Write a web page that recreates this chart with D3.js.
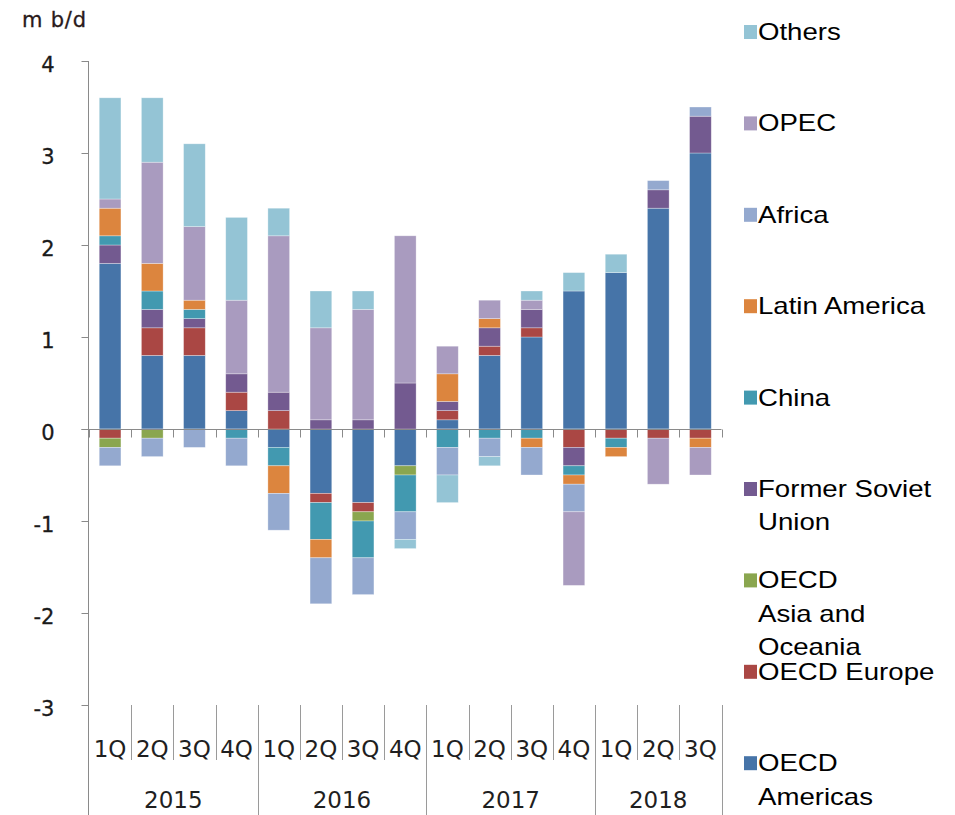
<!DOCTYPE html>
<html>
<head>
<meta charset="utf-8">
<script src="https://cdn.jsdelivr.net/npm/d3@7"></script>
<style>
  html, body { margin: 0; padding: 0; background: #fff; }
  svg { display: block; }
</style>
</head>
<body>
<svg id="chart" width="955" height="815"></svg>
<script>
// Year-on-year change in oil supply by region, million barrels per day
const years = ["2015", "2016", "2017", "2018"];
const quartersPerYear = [
  ["1Q", "2Q", "3Q", "4Q"],
  ["1Q", "2Q", "3Q", "4Q"],
  ["1Q", "2Q", "3Q", "4Q"],
  ["1Q", "2Q", "3Q"]
];
const yTicks = [-3, -2, -1, 0, 1, 2, 3, 4];
const unitLabel = "m b/d";

const oecdAmericas = [1.8, 0.8, 0.8, 0.2, -0.2, -0.7, -0.8, -0.4, 0.1, 0.8, 1.0, 1.5, 1.7, 2.4, 3.0];
const oecdEurope   = [-0.1, 0.3, 0.3, 0.2, 0.2, -0.1, -0.1, 0.0, 0.1, 0.1, 0.1, -0.2, -0.1, -0.1, -0.1];
const oecdAsia     = [-0.1, -0.1, 0.0, 0.0, 0.0, 0.0, -0.1, -0.1, 0.0, 0.0, 0.0, 0.0, 0.0, 0.0, 0.0];
const formerSoviet = [0.2, 0.2, 0.1, 0.2, 0.2, 0.1, 0.1, 0.5, 0.1, 0.2, 0.2, -0.2, 0.0, 0.2, 0.4];
const china        = [0.1, 0.2, 0.1, -0.1, -0.2, -0.4, -0.4, -0.4, -0.2, -0.1, -0.1, -0.1, -0.1, 0.0, 0.0];
const latinAmerica = [0.3, 0.3, 0.1, 0.0, -0.3, -0.2, 0.0, 0.0, 0.3, 0.1, -0.1, -0.1, -0.1, 0.0, -0.1];
const africa       = [-0.2, -0.2, -0.2, -0.3, -0.4, -0.5, -0.4, -0.3, -0.3, -0.2, -0.3, -0.3, 0.0, 0.1, 0.1];
const opec         = [0.1, 1.1, 0.8, 0.8, 1.7, 1.0, 1.2, 1.6, 0.3, 0.2, 0.1, -0.8, 0.0, -0.5, -0.3];
const others       = [1.1, 0.7, 0.9, 0.9, 0.3, 0.4, 0.2, -0.1, -0.3, -0.1, 0.1, 0.2, 0.2, 0.0, 0.0];

// Series in stacking order (bottom of the stack first)
const seriesNames = [
  "OECD Americas", "OECD Europe", "OECD Asia and Oceania", "Former Soviet Union",
  "China", "Latin America", "Africa", "OPEC", "Others"
];
const seriesValues = [
  oecdAmericas, oecdEurope, oecdAsia, formerSoviet,
  china, latinAmerica, africa, opec, others
];
const seriesColors = [
  "#4674a8", "#aa4744", "#8aa64f", "#735a90",
  "#4299b0", "#dc853e", "#94a9cf", "#a99bbf", "#94c4d5"
];
// Legend wording, wrapped the way it is printed
const legendLines = [
  ["OECD", "Americas"], ["OECD Europe"], ["OECD", "Asia and", "Oceania"], ["Former Soviet", "Union"],
  ["China"], ["Latin America"], ["Africa"], ["OPEC"], ["Others"]
];

// ---- layout ----
const plot = { left: 89, right: 721.5, top: 61, bottom: 705 };
const svg = d3.select("#chart");
const axisColor = "#8a8a8a";
const axisFont = "'DejaVu Sans', Verdana, sans-serif";

const periods = years.flatMap((yr, i) =>
  quartersPerYear[i].map(q => ({ key: yr + "-" + q, year: yr, quarter: q })));

const rows = periods.map((p, i) => {
  const row = { period: p.key };
  seriesNames.forEach((name, s) => { row[name] = seriesValues[s][i]; });
  return row;
});

const x = d3.scaleBand()
  .domain(periods.map(p => p.key))
  .range([plot.left, plot.right])
  .paddingInner(0.485)
  .paddingOuter(0.2425);

const y = d3.scaleLinear()
  .domain([d3.min(yTicks), d3.max(yTicks)])
  .range([plot.bottom, plot.top]);

const stacked = d3.stack()
  .keys(seriesNames)
  .offset(d3.stackOffsetDiverging)(rows);

// ---- bars ----
const layers = svg.append("g").attr("class", "bars")
  .selectAll("g")
  .data(stacked)
  .join("g")
  .attr("fill", (d, i) => seriesColors[i]);

layers.selectAll("rect")
  .data(d => d.filter(seg => seg[0] !== seg[1]))
  .join("rect")
  .attr("x", d => x(d.data.period))
  .attr("width", x.bandwidth())
  .attr("y", d => Math.min(y(d[0]), y(d[1])))
  .attr("height", d => Math.abs(y(d[0]) - y(d[1])))
  .attr("stroke", "rgba(255,255,255,0.45)")
  .attr("stroke-width", 0.7);

// ---- value axis ----
const yAxis = svg.append("g")
  .attr("transform", `translate(${plot.left - 0.5},0)`)
  .call(d3.axisLeft(y).tickValues(yTicks).tickSize(7).tickPadding(27).tickFormat(d => String(d)));
yAxis.select(".domain").remove();
yAxis.selectAll(".tick line").attr("stroke", axisColor);
yAxis.selectAll(".tick text")
  .attr("font-family", axisFont)
  .attr("font-size", 21)
  .attr("fill", "#1a1a1a")
  .attr("stroke", "#1a1a1a")
  .attr("stroke-width", 0.3)
  .attr("dy", "0.48em");

// vertical axis line, running down through the category label area
svg.append("line")
  .attr("x1", plot.left - 0.5).attr("x2", plot.left - 0.5)
  .attr("y1", plot.top).attr("y2", 815)
  .attr("stroke", axisColor);

svg.append("text")
  .attr("x", 22).attr("y", 27)
  .attr("font-family", axisFont)
  .attr("font-size", 21)
  .attr("fill", "#2a1a1a")
  .attr("stroke", "#2a1a1a")
  .attr("stroke-width", 0.3)
  .attr("letter-spacing", 0.8)
  .text(unitLabel);

// ---- category axis at zero ----
const zeroY = Math.round(y(0)) + 0.5;
svg.append("line")
  .attr("x1", plot.left - 7.5).attr("x2", plot.right)
  .attr("y1", zeroY).attr("y2", zeroY)
  .attr("stroke", axisColor);

const boundaries = d3.range(periods.length + 1).map(i => plot.left + i * x.step());
svg.append("g").selectAll("line")
  .data(boundaries)
  .join("line")
  .attr("x1", d => Math.round(d) + 0.5).attr("x2", d => Math.round(d) + 0.5)
  .attr("y1", zeroY).attr("y2", zeroY + 8)
  .attr("stroke", axisColor);

// ---- category labels: quarters then years ----
const labelTop = plot.bottom;
const yearStarts = [];
let count = 0;
quartersPerYear.forEach(qs => { yearStarts.push(count); count += qs.length; });

svg.append("g").selectAll("line")
  .data(boundaries.slice(1))
  .join("line")
  .attr("x1", d => Math.round(d) + 0.5).attr("x2", d => Math.round(d) + 0.5)
  .attr("y1", labelTop)
  .attr("y2", (d, i) => (yearStarts.includes(i + 1) || i + 1 === periods.length) ? 815 : 760)
  .attr("stroke", "#9a9a9a");

svg.append("g").selectAll("text")
  .data(periods)
  .join("text")
  .attr("x", d => x(d.key) + x.bandwidth() / 2)
  .attr("y", 757)
  .attr("text-anchor", "middle")
  .attr("font-family", axisFont)
  .attr("font-size", 23)
  .attr("fill", "#1f1f1f")
  .text(d => d.quarter);

svg.append("g").selectAll("text")
  .data(years)
  .join("text")
  .attr("x", (d, i) => plot.left + (yearStarts[i] + quartersPerYear[i].length / 2) * x.step())
  .attr("y", 808)
  .attr("text-anchor", "middle")
  .attr("font-family", axisFont)
  .attr("font-size", 23)
  .attr("fill", "#1f1f1f")
  .text(d => d);

// ---- legend (top entry is the last series) ----
const legendOrder = d3.range(seriesNames.length).reverse();
const legend = svg.append("g").attr("class", "legend")
  .selectAll("g")
  .data(legendOrder)
  .join("g")
  .attr("transform", (s, i) => `translate(744,${40 + i * 91.4})`);

legend.append("rect")
  .attr("x", 0).attr("y", -15)
  .attr("width", 13).attr("height", 14)
  .attr("fill", s => seriesColors[s]);

legend.append("text")
  .attr("transform", "translate(14,0) scale(1.2,1)")
  .attr("font-family", "'Liberation Sans', Arial, sans-serif")
  .attr("font-size", 23)
  .attr("fill", "#000")
  .selectAll("tspan")
  .data(s => legendLines[s])
  .join("tspan")
  .attr("x", 0)
  .attr("y", (d, j) => j * 33.5)
  .text(d => d);
</script>
</body>
</html>
